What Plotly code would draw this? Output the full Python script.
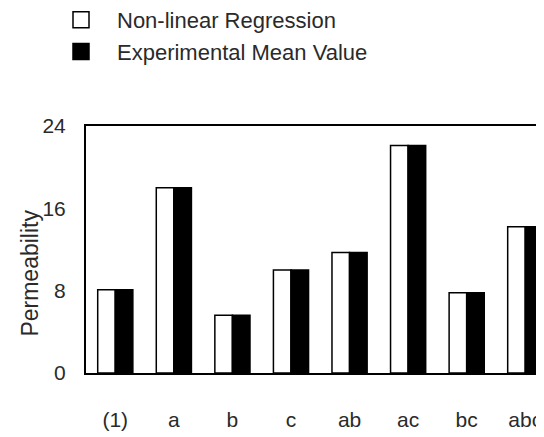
import plotly.graph_objects as go

categories = ["(1)", "a", "b", "c", "ab", "ac", "bc", "abc"]
nonlinear_regression = [8.1, 18.0, 5.6, 10.0, 11.7, 22.1, 7.8, 14.2]
experimental_mean = [8.1, 18.0, 5.6, 10.0, 11.7, 22.1, 7.8, 14.2]
y_ticks = [0, 8, 16, 24]

FONT = "Liberation Sans, Arial, Helvetica, sans-serif"
TXT = "#2a2a2a"

fig = go.Figure()
fig.add_trace(go.Bar(
    x=categories, y=nonlinear_regression, name="Non-linear Regression",
    marker=dict(color="white", line=dict(color="black", width=1.5)),
    showlegend=False,
))
fig.add_trace(go.Bar(
    x=categories, y=experimental_mean, name="Experimental Mean Value",
    marker=dict(color="black", line=dict(color="black", width=1.5)),
    showlegend=False,
))
# legend-only entries (larger square symbols like the reference)
fig.add_trace(go.Scatter(
    x=[None], y=[None], mode="markers", name="Non-linear Regression",
    marker=dict(symbol="square", size=16, color="white", line=dict(color="black", width=1.5)),
))
fig.add_trace(go.Scatter(
    x=[None], y=[None], mode="markers", name="Experimental Mean Value",
    marker=dict(symbol="square", size=16, color="black", line=dict(color="black", width=1.5)),
))

fig.update_layout(
    width=544, height=437,
    margin=dict(l=78, r=8, t=118, b=72, autoexpand=False),
    paper_bgcolor="white", plot_bgcolor="white",
    font=dict(family=FONT, color=TXT, size=21),
    barmode="group", bargap=0.4, bargroupgap=0,
    showlegend=True,
    legend=dict(
        x=(37 - 78) / 458, y=(365 + 9) / 247, xref="paper", yref="paper",
        xanchor="left", yanchor="top",
        font=dict(family=FONT, size=22, color=TXT),
        bgcolor="rgba(0,0,0,0)", itemwidth=62, tracegroupgap=0,
    ),
    xaxis=dict(
        type="category", categoryorder="array", categoryarray=categories,
        range=[-0.5, 7.32], showline=True, linecolor="black", linewidth=2,
        mirror=True, showgrid=False, ticks="", ticklabelstandoff=27,
        tickfont=dict(size=21), zeroline=False,
    ),
    yaxis=dict(
        range=[0, 24], tickvals=y_ticks, showline=True, linecolor="black",
        linewidth=2, showgrid=False, zeroline=False, ticks="",
        ticklabelstandoff=14, tickfont=dict(size=21),
    ),
    annotations=[dict(
        text="Permeability", textangle=-90, showarrow=False,
        xref="paper", yref="paper", x=(30 - 86) / 458, y=(373 - 274) / 246,
        xanchor="center", yanchor="middle",
        font=dict(family=FONT, size=23, color=TXT),
    )],
)

fig.write_html("out.html")
